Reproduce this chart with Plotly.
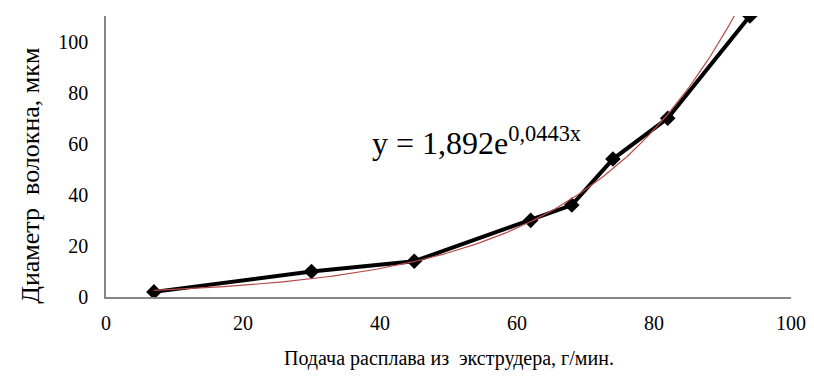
import numpy as np
import plotly.graph_objects as go

# data
feed_rate = [7, 30, 45, 62, 68, 74, 82, 94]          # г/мин
diameter = [2, 10, 14, 30, 36, 54, 70, 110]          # мкм

# exponential trendline coefficients (from the displayed equation)
trend_a = 1.892
trend_b = 0.0443
trend_x_start = 7
trend_x_end = 92

x_ticks = [0, 20, 40, 60, 80, 100]
y_ticks = [0, 20, 40, 60, 80, 100]

x_title = "Подача расплава из  экструдера, г/мин."
y_title = "Диаметр  волокна, мкм"
equation = "y = 1,892e<sup>0,0443x</sup>"

tx = np.linspace(trend_x_start, trend_x_end, 200)
ty = trend_a * np.exp(trend_b * tx)

fig = go.Figure()
fig.add_trace(go.Scatter(x=feed_rate, y=diameter, mode="lines+markers",
                         line=dict(color="black", width=4),
                         marker=dict(symbol="diamond", size=12, color="black"),
                         showlegend=False))
fig.add_trace(go.Scatter(x=tx, y=ty, mode="lines",
                         line=dict(color="#b84b48", width=1.2),
                         showlegend=False))

font_family = "Liberation Serif, Times New Roman, serif"
# page body has an 8px default margin, so the figure is 8px smaller each way
fig.update_layout(
    width=806, height=368,
    margin=dict(l=98, r=19, t=8, b=79),
    paper_bgcolor="white", plot_bgcolor="white",
    font=dict(family=font_family, color="black"),
    xaxis=dict(range=[0, 100], tickvals=x_ticks, showgrid=False, zeroline=False,
               showline=True, linecolor="#868686", linewidth=1.5,
               ticks="", tickfont=dict(size=20), ticklabelstandoff=7),
    yaxis=dict(range=[0, 110], tickvals=y_ticks, showgrid=False, zeroline=False,
               showline=True, linecolor="#868686", linewidth=1.5,
               ticks="", tickfont=dict(size=20), ticklabelstandoff=12),
    annotations=[
        dict(x=54.1, y=61.0, xref="x", yref="y", text=equation,
             showarrow=False, font=dict(size=32, family=font_family)),
        dict(x=0.5, y=-0.22, xref="paper", yref="paper", text=x_title,
             showarrow=False, xanchor="center", yanchor="middle",
             font=dict(size=20, family=font_family)),
        dict(x=-0.110, y=0.43, xref="paper", yref="paper", text=y_title,
             showarrow=False, xanchor="center", yanchor="middle", textangle=-90,
             font=dict(size=26, family=font_family)),
    ],
)

fig.write_html("out.html")
